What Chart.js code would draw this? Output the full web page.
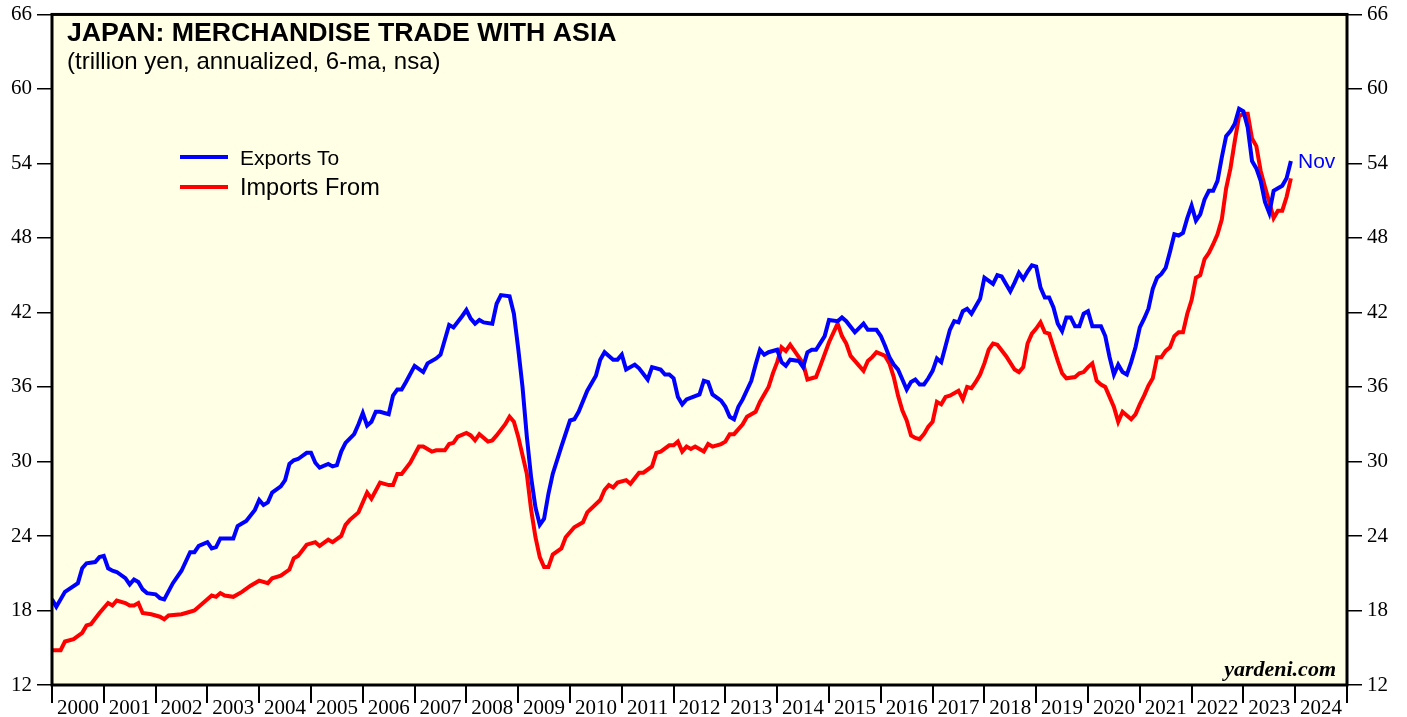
<!DOCTYPE html>
<html>
<head>
<meta charset="utf-8">
<script src="https://cdn.jsdelivr.net/npm/chart.js@4.4.0/dist/chart.umd.min.js"></script>
<style>
  html, body { margin: 0; padding: 0; background: #fff; }
</style>
</head>
<body>
<canvas id="myChart" width="1407" height="717"></canvas>
<script>
// month positions: 0 = start of 2000, each point sits at its month end
const exportMonths = [0,1,3,6,7,8,10,11,12,13, 14,15,17,18,19,20,21,22,24,25,
  26,28,30,32,33,34,36,37,38,39, 42,43,44,45,47,48,49,50,51,53,
  54,55,56,57,59,60,61,62,64,65, 66,67,68,70,71,72,73,74,75,76,
  78,79,80,81,82,84,86,87,89,90, 92,93,95,96,97,98,99,100,102,103,
  104,106,107,108,109,110,111,112,113,114, 115,116,118,120,121,122,124,126,127,128,
  130,131,132,133,135,136,138,139,141,142, 143,144,145,146,147,150,151,152,153,155,
  156,157,158,159,160,162,163,164,165,166, 168,169,170,171,173,174,175,176,177,179,
  180,182,183,184,186,188,189,191,192,193, 194,195,196,197,198,199,200,201,202,203,
  204,205,206,207,208,209,210,211,212,213, 214,215,216,218,219,220,221,222,223,224,
  225,226,227,228,229,230,231,232,233,234, 235,236,237,238,239,240,241,243,244,245,
  246,247,248,249,250,251,252,253,254,255, 256,257,258,259,260,261,262,263,264,265,
  266,267,268,269,270,271,272,273,274,275, 276,277,278,279,280,281,282,283,284,285,
  286,287];
const exportValues = [18.9,18.3,19.5,20.2,21.4,21.8,21.9,22.3,22.4,21.4, 21.2,21.1,20.6,20.1,20.5,20.3,19.7,19.4,19.3,19.0,
  18.9,20.2,21.2,22.7,22.7,23.2,23.5,23.0,23.1,23.8, 23.8,24.8,25.0,25.2,26.1,26.9,26.5,26.7,27.5,28.0,
  28.5,29.8,30.1,30.2,30.7,30.7,29.9,29.5,29.8,29.6, 29.7,30.8,31.5,32.2,33.0,33.9,32.9,33.2,34.0,34.0,
  33.8,35.3,35.8,35.8,36.4,37.7,37.2,37.9,38.3,38.6, 41.0,40.8,41.7,42.2,41.5,41.1,41.4,41.2,41.1,42.7,
  43.4,43.3,41.9,39.1,36.0,32.0,28.7,26.3,24.9,25.4, 27.4,29.0,31.2,33.3,33.4,34.0,35.7,36.9,38.2,38.8,
  38.2,38.2,38.6,37.4,37.8,37.5,36.6,37.6,37.4,37.0, 37.0,36.7,35.2,34.6,35.0,35.4,36.5,36.4,35.4,34.9,
  34.4,33.6,33.4,34.4,35.0,36.5,37.8,39.0,38.6,38.8, 39.0,38.0,37.7,38.2,38.1,37.6,38.8,39.0,39.0,40.1,
  41.4,41.3,41.6,41.3,40.4,41.1,40.6,40.6,40.1,39.3, 38.4,37.8,37.4,36.6,35.8,36.4,36.6,36.2,36.2,36.7,
  37.3,38.3,38.0,39.3,40.6,41.3,41.2,42.1,42.3,41.9, 42.5,43.1,44.8,44.3,45.0,44.9,44.3,43.7,44.4,45.2,
  44.7,45.3,45.8,45.7,44.0,43.2,43.2,42.4,41.1,40.5, 41.6,41.6,40.9,40.9,41.9,42.1,40.9,40.9,40.1,38.4,
  37.0,37.8,37.2,37.0,38.0,39.2,40.8,41.5,42.3,43.9, 44.8,45.1,45.6,46.9,48.3,48.2,48.4,49.6,50.6,49.4,
  49.9,51.1,51.8,51.8,52.6,54.5,56.2,56.6,57.2,58.4, 58.2,56.9,54.2,53.6,52.6,50.9,50.0,51.8,52.0,52.2,
  52.8,54.2];

const importMonths = [0,2,3,5,7,8,9,11,13,14, 15,17,18,19,20,21,23,25,26,27,
  30,32,33,35,37,38,39,40,42,44, 46,48,50,51,53,55,56,57,59,61,
  62,64,65,67,68,69,71,73,74,76, 78,79,80,81,83,85,86,88,89,91,
  92,93,94,96,97,98,99,101,102,103, 105,106,107,108,110,111,112,113,114,115,
  116,118,119,121,123,124,127,128,129,130, 131,133,134,136,137,139,140,141,143,144,
  145,146,147,148,149,151,152,153,155,156, 157,158,160,161,163,164,166,167,168,169,
  170,171,172,174,175,177,178,180,182,183, 184,185,187,188,189,190,191,193,194,195,
  196,197,198,199,200,201,202,203,204,205, 206,207,208,210,211,212,213,214,215,216,
  217,218,219,221,223,224,225,226,227,228, 229,230,231,233,234,235,237,238,239,240,
  241,242,243,244,245,246,247,248,249,250, 251,252,253,254,255,256,257,258,259,260,
  261,262,263,264,265,266,267,268,269,270, 271,272,273,274,275,276,277,278,279,280,
  281,282,283,284,285,286,287];
const importValues = [14.8,14.8,15.5,15.7,16.2,16.8,16.9,17.8,18.6,18.4, 18.8,18.6,18.4,18.4,18.6,17.8,17.7,17.5,17.3,17.6,
  17.7,17.9,18.0,18.6,19.2,19.1,19.4,19.2,19.1,19.5, 20.0,20.4,20.2,20.6,20.8,21.3,22.2,22.4,23.3,23.5,
  23.2,23.7,23.5,24.0,24.9,25.3,25.9,27.5,27.0,28.3, 28.1,28.1,29.0,29.0,29.9,31.2,31.2,30.8,30.9,30.9,
  31.4,31.5,32.0,32.3,32.1,31.7,32.2,31.6,31.7,32.1, 33.0,33.6,33.2,32.0,29.0,26.1,23.9,22.3,21.5,21.5,
  22.5,23.0,23.9,24.7,25.1,25.9,26.9,27.7,28.1,27.9, 28.3,28.5,28.2,29.1,29.1,29.6,30.7,30.8,31.3,31.3,
  31.6,30.8,31.2,31.0,31.2,30.8,31.4,31.2,31.4,31.6, 32.2,32.2,33.0,33.6,34.0,34.8,36.0,37.1,38.0,39.2,
  38.9,39.4,38.9,37.9,36.6,36.8,37.7,39.6,41.1,40.1, 39.5,38.5,37.7,37.3,38.1,38.4,38.8,38.5,37.9,36.8,
  35.3,34.1,33.3,32.1,31.9,31.8,32.2,32.8,33.2,34.8, 34.6,35.2,35.3,35.7,35.0,36.0,35.9,36.4,37.0,37.9,
  39.0,39.5,39.4,38.5,37.4,37.2,37.6,39.5,40.3,40.7, 41.2,40.4,40.3,38.1,37.1,36.7,36.8,37.1,37.2,37.6,
  37.9,36.5,36.2,36.0,35.2,34.4,33.2,34.0,33.7,33.4, 33.8,34.6,35.3,36.1,36.7,38.4,38.4,38.9,39.2,40.1,
  40.4,40.4,41.9,43.0,44.8,45.0,46.3,46.8,47.5,48.3, 49.5,52.0,53.6,55.8,57.8,58.0,58.0,56.0,55.4,53.4,
  52.1,50.9,49.6,50.2,50.2,51.3,52.8];

const yearLabels = ['2000','2001','2002','2003','2004','2005','2006','2007','2008','2009','2010','2011','2012',
  '2013','2014','2015','2016','2017','2018','2019','2020','2021','2022','2023','2024'];
const yMin = 12, yMax = 66, yStep = 6;

const toPoints = (months, values) => months.map((m, i) => ({x: m, y: values[i]}));

const frame = {
  id: 'frame',
  beforeDatasetsDraw(chart) {
    const {ctx, chartArea: a} = chart;
    ctx.save();
    ctx.fillStyle = '#FFFFE5';
    ctx.fillRect(a.left, a.top, a.right - a.left, a.bottom - a.top);
    ctx.restore();
  },
  afterDraw(chart) {
    const {ctx, chartArea: a} = chart;
    const ds = chart.data.datasets;
    ctx.save();
    ctx.strokeStyle = '#000';
    ctx.lineWidth = 3;
    ctx.strokeRect(a.left, a.top, a.right - a.left, a.bottom - a.top);

    ctx.fillStyle = '#000';
    ctx.textBaseline = 'alphabetic';
    ctx.font = 'bold 26.7px "Liberation Sans", Arial, sans-serif';
    ctx.fillText('JAPAN: MERCHANDISE TRADE WITH ASIA', 67, 41);
    ctx.font = '24px "Liberation Sans", Arial, sans-serif';
    ctx.fillText('(trillion yen, annualized, 6-ma, nsa)', 67, 68.5);

    // legend
    ctx.lineWidth = 4;
    ctx.strokeStyle = ds[0].borderColor;
    ctx.beginPath(); ctx.moveTo(180, 157); ctx.lineTo(228, 157); ctx.stroke();
    ctx.strokeStyle = ds[1].borderColor;
    ctx.beginPath(); ctx.moveTo(180, 187); ctx.lineTo(228, 187); ctx.stroke();
    ctx.fillStyle = '#000';
    ctx.font = '21px "Liberation Sans", Arial, sans-serif';
    ctx.fillText(ds[0].label, 240, 165);
    ctx.font = '23.5px "Liberation Sans", Arial, sans-serif';
    ctx.fillText(ds[1].label, 240, 195);

    ctx.fillStyle = ds[0].borderColor;
    ctx.font = '21px "Liberation Sans", Arial, sans-serif';
    ctx.fillText('Nov', 1298, 168);

    ctx.fillStyle = '#000';
    ctx.font = 'italic bold 22px "Liberation Serif", "Times New Roman", serif';
    ctx.textAlign = 'right';
    ctx.fillText('yardeni.com', 1336, 676);
    ctx.restore();
  }
};

const yAxis = (pos, width) => ({
  position: pos,
  min: yMin,
  max: yMax,
  afterFit: s => { s.width = width; },
  border: { display: false },
  grid: { drawOnChartArea: false, drawTicks: true, tickLength: 15, color: '#000', lineWidth: 1.5 },
  ticks: { stepSize: yStep, color: '#000', padding: 5, font: { family: '"Liberation Serif", serif', size: 21, lineHeight: 0.9 } }
});

const config = {
  type: 'line',
  data: {
    datasets: [{
      label: 'Exports To',
      data: toPoints(exportMonths, exportValues),
      borderColor: '#0000FF',
      borderWidth: 4,
      pointRadius: 0,
      tension: 0
    }, {
      label: 'Imports From',
      data: toPoints(importMonths, importValues),
      borderColor: '#FF0000',
      borderWidth: 4,
      pointRadius: 0,
      tension: 0
    }]
  },
  options: {
    responsive: false,
    animation: false,
    layout: { padding: { top: 10.5, left: 0, right: 0, bottom: 0 } },
    plugins: { legend: { display: false }, tooltip: { enabled: false } },
    scales: {
      x: {
        type: 'linear',
        min: 0,
        max: yearLabels.length * 12,
        afterFit: s => { s.height = 32; },
        border: { display: false },
        grid: {
          drawOnChartArea: false,
          drawTicks: true,
          tickLength: 18,
          lineWidth: 2,
          color: c => (c.tick && c.tick.value % 12 === 0) ? '#000' : 'rgba(0,0,0,0)'
        },
        ticks: {
          stepSize: 6,
          autoSkip: false,
          maxRotation: 0,
          minRotation: 0,
          padding: -7,
          color: '#000',
          font: { family: '"Liberation Serif", serif', size: 21 },
          callback: v => v % 12 === 6 ? yearLabels[(v - 6) / 12] : ''
        }
      },
      y: yAxis('left', 52),
      y2: yAxis('right', 60)
    }
  },
  plugins: [frame]
};

const myChart = new Chart(document.getElementById('myChart'), config);
</script>
</body>
</html>
